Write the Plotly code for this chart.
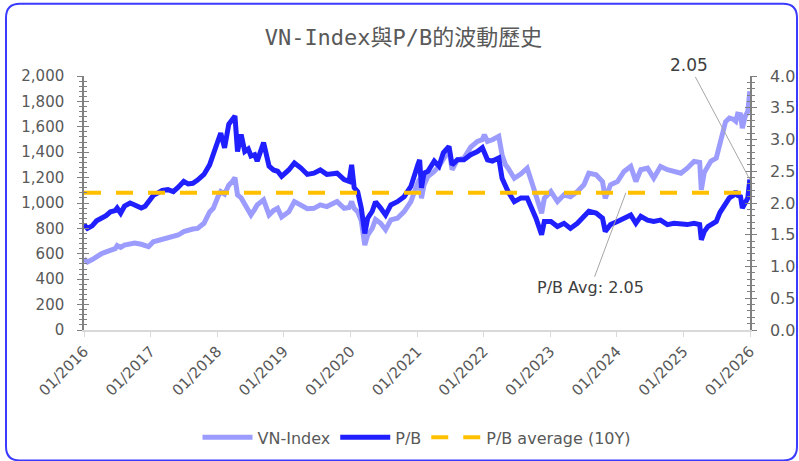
import plotly.graph_objects as go

dates = [
    "2016-01-01", "2016-01-20", "2016-02-15", "2016-03-10", "2016-04-05", "2016-05-01", "2016-05-25",
    "2016-06-20", "2016-07-01", "2016-07-20", "2016-08-10", "2016-09-10", "2016-10-05", "2016-11-10",
    "2016-12-01", "2016-12-20", "2017-01-15", "2017-02-10", "2017-03-05", "2017-04-05", "2017-05-05",
    "2017-06-01", "2017-07-01", "2017-07-25", "2017-08-20", "2017-09-15", "2017-10-20", "2017-11-20",
    "2017-12-10", "2018-01-05", "2018-01-20", "2018-02-10", "2018-03-05", "2018-03-25", "2018-04-08",
    "2018-04-22", "2018-05-12", "2018-06-01", "2018-06-20", "2018-07-05", "2018-07-25", "2018-08-08",
    "2018-09-12", "2018-10-12", "2018-11-05", "2018-11-28", "2018-12-20", "2019-01-28", "2019-02-28",
    "2019-04-05", "2019-05-10", "2019-06-15", "2019-07-20", "2019-08-25", "2019-10-20", "2019-11-28",
    "2019-12-25", "2020-01-08", "2020-01-22", "2020-02-10", "2020-03-01", "2020-03-20", "2020-04-05",
    "2020-04-30", "2020-05-18", "2020-06-15", "2020-07-12", "2020-08-10", "2020-09-15", "2020-10-22",
    "2020-11-28", "2021-01-05", "2021-01-15", "2021-01-25", "2021-02-08", "2021-03-01", "2021-04-05",
    "2021-05-01", "2021-05-25", "2021-06-25", "2021-07-12", "2021-08-10", "2021-09-15", "2021-10-22",
    "2021-11-28", "2021-12-25", "2022-01-05", "2022-01-22", "2022-02-18", "2022-03-25", "2022-04-12",
    "2022-05-01", "2022-05-15", "2022-06-18", "2022-07-25", "2022-08-28", "2022-09-25", "2022-10-15",
    "2022-11-15", "2022-11-30", "2023-01-05", "2023-02-10", "2023-03-18", "2023-04-22", "2023-05-30",
    "2023-07-05", "2023-08-01", "2023-09-10", "2023-10-15", "2023-10-30", "2023-11-28", "2024-01-05",
    "2024-02-10", "2024-03-18", "2024-04-15", "2024-05-12", "2024-06-18", "2024-07-22", "2024-08-28",
    "2024-10-05", "2024-11-10", "2024-12-18", "2025-01-22", "2025-02-28", "2025-03-31", "2025-04-09",
    "2025-04-25", "2025-05-15", "2025-06-01", "2025-06-30", "2025-07-20", "2025-08-05", "2025-08-20",
    "2025-09-10", "2025-10-01", "2025-10-15", "2025-10-25", "2025-11-10", "2025-11-20", "2025-12-05",
    "2025-12-20", "2025-12-31",
]

vn_index = [
    560, 535, 555, 580, 600, 615, 630,
    640, 665, 650, 668, 672, 685, 675,
    665, 656, 695, 705, 715, 721, 735,
    748, 775, 788, 795, 800, 840, 930,
    958, 1050, 1090, 1070, 1140, 1170, 1200,
    1064, 1040, 990, 940, 906, 950, 985,
    1025, 906, 940, 958, 890, 930, 1011,
    985, 955, 958, 985, 972, 1011, 958,
    965, 1011, 958, 932, 860, 669, 748,
    800, 870, 840, 790, 867, 880, 932,
    1011, 1160, 1190, 1037, 1143, 1209, 1248,
    1290, 1340, 1418, 1262, 1340, 1353, 1440,
    1485, 1500, 1538, 1485, 1498, 1525, 1380,
    1300, 1274, 1195, 1230, 1274, 1150, 1050,
    919, 1037, 1090, 1011, 1064, 1050, 1090,
    1143, 1235, 1222, 1169, 1037, 1143, 1169,
    1248, 1288, 1169, 1262, 1274, 1195, 1288,
    1262, 1248, 1235, 1274, 1327, 1320, 1104,
    1240, 1301, 1330, 1353, 1480, 1538, 1640,
    1669, 1660, 1643, 1700, 1696, 1590, 1680,
    1722, 1880,
]

pb = [
    1.66, 1.60, 1.64, 1.72, 1.76, 1.80, 1.86,
    1.88, 1.92, 1.84, 1.95, 2.00, 1.97, 1.92,
    1.95, 2.02, 2.12, 2.16, 2.20, 2.21, 2.18,
    2.25, 2.34, 2.30, 2.31, 2.36, 2.45, 2.60,
    2.79, 2.98, 3.10, 2.87, 3.24, 3.30, 3.37,
    2.81, 3.08, 2.81, 2.85, 2.74, 2.76, 2.66,
    2.95, 2.58, 2.52, 2.50, 2.42, 2.52, 2.63,
    2.55, 2.45, 2.47, 2.52, 2.45, 2.47, 2.37,
    2.34, 2.60, 2.24, 2.18, 1.92, 1.52, 1.76,
    1.87, 2.02, 1.92, 1.81, 1.97, 2.02, 2.10,
    2.26, 2.60, 2.68, 2.24, 2.47, 2.50, 2.66,
    2.58, 2.79, 2.89, 2.60, 2.68, 2.68, 2.76,
    2.81, 2.87, 2.80, 2.68, 2.66, 2.71, 2.39,
    2.25, 2.18, 2.02, 2.08, 2.08, 1.90, 1.76,
    1.50, 1.71, 1.71, 1.63, 1.68, 1.60, 1.68,
    1.79, 1.87, 1.84, 1.76, 1.55, 1.66, 1.71,
    1.76, 1.81, 1.68, 1.79, 1.73, 1.71, 1.73,
    1.66, 1.68, 1.66, 1.66, 1.68, 1.66, 1.42,
    1.55, 1.63, 1.66, 1.71, 1.85, 1.92, 2.02,
    2.08, 2.12, 2.18, 2.12, 2.10, 1.92, 2.02,
    2.08, 2.37,
]

pb_avg = 2.16
pb_avg_label = "P/B Avg: 2.05"
pb_last_label = "2.05"
avg_note_date = "2024-02-20"

# layout geometry, designed in 799x461 pixels and scaled to the captured page
S = 807 / 799
W_FIG, H_FIG = round(799 * S), round(461 * S)
L, R, T, B = 83 * S, 749 * S, 75 * S, 328 * S
PW, PH = R - L, B - T

GRAY = "#595959"
AXIS = "#808080"
FONT = "DejaVu Sans"

fig = go.Figure()
fig.add_trace(go.Scatter(x=dates, y=vn_index, name="VN-Index", mode="lines",
                         line=dict(color="#9C9CFF", width=5), yaxis="y"))
fig.add_trace(go.Scatter(x=dates, y=pb, name="P/B", mode="lines",
                         line=dict(color="#1F1FFF", width=5), yaxis="y2"))
fig.add_trace(go.Scatter(x=["2016-01-01", "2026-01-01"], y=[pb_avg, pb_avg],
                         name="P/B average (10Y)", mode="lines",
                         line=dict(color="#FFC000", width=4, dash="17px,15px"), yaxis="y2"))
# helper traces so the inner half of the "cross" tick marks is drawn
fig.add_trace(go.Scatter(x=[None], y=[None], yaxis="y3", showlegend=False, hoverinfo="skip"))
fig.add_trace(go.Scatter(x=[None], y=[None], yaxis="y4", showlegend=False, hoverinfo="skip"))


def P(px, py):
    return f"{(px * S - L) / PW:.5f},{(B - py * S) / PH:.5f}"


x0, x1, y0, y1, r = 5, 796, 3, 458, 14
path = (f"M {P(x0 + r, y0)} L {P(x1 - r, y0)} Q {P(x1, y0)} {P(x1, y0 + r)} "
        f"L {P(x1, y1 - r)} Q {P(x1, y1)} {P(x1 - r, y1)} "
        f"L {P(x0 + r, y1)} Q {P(x0, y1)} {P(x0, y1 - r)} "
        f"L {P(x0, y0 + r)} Q {P(x0, y0)} {P(x0 + r, y0)} Z")

yleft = dict(range=[0, 2000], dtick=200, showgrid=False, zeroline=False)
yright = dict(range=[0, 4], dtick=0.5, showgrid=False, zeroline=False)

fig.update_layout(
    width=W_FIG, height=H_FIG,
    margin=dict(l=L, r=W_FIG - R, t=T, b=H_FIG - B),
    paper_bgcolor="white", plot_bgcolor="white",
    font=dict(family=FONT, size=15, color=GRAY),
    title=dict(text="VN-Index與P/B的波動歷史",
               font=dict(family="DejaVu Sans Mono, Noto Sans CJK TC", size=22, color=GRAY),
               x=0.5, xanchor="center", y=1 - 37 * S / H_FIG, yanchor="middle"),
    xaxis=dict(type="date", range=["2016-01-01", "2026-01-01"],
               tickformat="%m/%Y", dtick="M12", tick0="2016-01-01",
               tickangle=-45, showgrid=False, zeroline=False,
               showline=True, linecolor="#D9D9D9", linewidth=1.5,
               ticks="outside", ticklen=5, tickcolor="#D9D9D9",
               tickfont=dict(size=15, color=GRAY)),
    yaxis=dict(**yleft, tickformat=",d",
               showline=True, linecolor=AXIS, linewidth=1.5,
               ticks="outside", ticklen=5, tickcolor=AXIS, ticklabelstandoff=10,
               minor=dict(dtick=40, ticks="outside", ticklen=3, tickcolor=AXIS),
               tickfont=dict(size=15, color=GRAY)),
    yaxis2=dict(**yright, tickformat=".1f", overlaying="y", side="right",
                showline=True, linecolor=AXIS, linewidth=1.5,
                ticks="outside", ticklen=5, tickcolor=AXIS, ticklabelstandoff=10,
                minor=dict(dtick=0.1, ticks="outside", ticklen=3, tickcolor=AXIS),
                tickfont=dict(size=16, color=GRAY)),
    yaxis3=dict(**yleft, overlaying="y", side="left", showline=False, showticklabels=False,
                ticks="inside", ticklen=5, tickcolor=AXIS,
                minor=dict(dtick=40, ticks="inside", ticklen=3, tickcolor=AXIS)),
    yaxis4=dict(**yright, overlaying="y", side="right", showline=False, showticklabels=False,
                ticks="inside", ticklen=5, tickcolor=AXIS,
                minor=dict(dtick=0.1, ticks="inside", ticklen=3, tickcolor=AXIS)),
    legend=dict(orientation="h", x=0.5, xanchor="center", y=(B - 435 * S) / PH, yanchor="middle",
                font=dict(size=16, color=GRAY), itemwidth=50, traceorder="normal"),
    shapes=[dict(type="path", path=path, xref="paper", yref="paper",
                 line=dict(color="#3B3BFF", width=2), fillcolor="rgba(0,0,0,0)", layer="above")],
    annotations=[
        dict(x=avg_note_date, y=pb_avg, xref="x", yref="y2", text=pb_avg_label,
             showarrow=True, arrowhead=0, arrowwidth=1, arrowcolor="#A6A6A6",
             ax=-35 * S, ay=94 * S, font=dict(size=16, color="#404040")),
        dict(x=dates[-1], y=pb[-1], xref="x", yref="y2", text=pb_last_label,
             showarrow=True, arrowhead=0, arrowwidth=1, arrowcolor="#A6A6A6",
             ax=-60 * S, ay=-113 * S, font=dict(size=17, color="#404040")),
    ],
)

fig.write_html(
    "out.html", config={"displayModeBar": False},
    post_script=("document.documentElement.style.margin='0';"
                 "document.body.style.margin='0';"),
)
